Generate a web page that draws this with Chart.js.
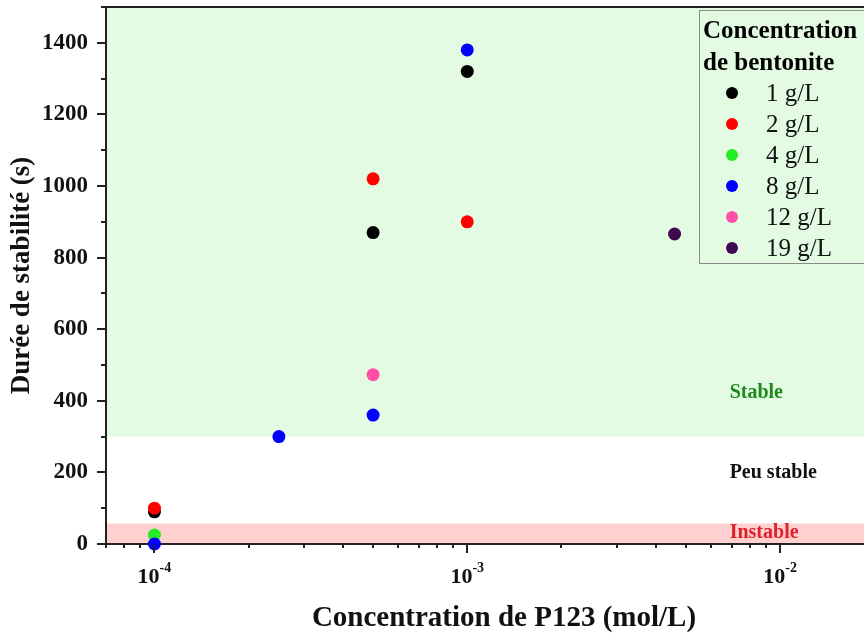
<!DOCTYPE html>
<html>
<head>
<meta charset="utf-8">
<script src="https://cdn.jsdelivr.net/npm/chart.js@4"></script>
<style>
  html, body { margin: 0; padding: 0; background: #fff; }
</style>
</head>
<body>
<canvas id="myChart" width="864" height="635"></canvas>
<script>
// series (bentonite concentration) and their points: P123 (mol/L) vs duration (s)
const seriesLabels = ['1 g/L', '2 g/L', '4 g/L', '8 g/L', '12 g/L', '19 g/L'];
const seriesColors = ['#000000', '#ff0000', '#22ee22', '#0000ff', '#ff4fa8', '#3d0a4f'];

const p123_1g = [1e-4, 5e-4, 1e-3];
const dur_1g = [90, 870, 1320];
const p123_2g = [1e-4, 5e-4, 1e-3];
const dur_2g = [100, 1020, 900];
const p123_4g = [1e-4];
const dur_4g = [25];
const p123_8g = [1e-4, 2.5e-4, 5e-4, 1e-3];
const dur_8g = [0, 300, 360, 1380];
const p123_12g = [5e-4];
const dur_12g = [473];
const p123_19g = [4.6e-3];
const dur_19g = [866];

const seriesX = [p123_1g, p123_2g, p123_4g, p123_8g, p123_12g, p123_19g];
const seriesY = [dur_1g, dur_2g, dur_4g, dur_8g, dur_12g, dur_19g];

// stability zones (s)
const stableMin = 300;
const unstableMax = 57;
const zoneLabels = ['Stable', 'Peu stable', 'Instable'];
const zoneLabelY = [422, 198, 31];
const zoneColors = ['#1e8a1e', '#111111', '#e0202a'];

// x tick labels (powers of ten)
const xTickValues = [1e-4, 1e-3, 1e-2];
const xTickExponents = ['-4', '-3', '-2'];

const SERIF = '"Liberation Serif", "Times New Roman", serif';

const datasets = seriesLabels.map((label, i) => ({
  label: label,
  data: seriesX[i].map((x, j) => ({ x: x, y: seriesY[i][j] })),
  backgroundColor: seriesColors[i],
  borderWidth: 0,
  pointRadius: 6.5,
  pointHoverRadius: 6.5,
  clip: false,
  order: seriesLabels.length - i // later series drawn on top
}));

const decor = {
  id: 'decor',
  beforeDraw(chart) {
    const { ctx, chartArea: a, scales: { y } } = chart;
    ctx.save();
    ctx.fillStyle = '#e3fbe3';
    let top = y.getPixelForValue(y.max), bot = y.getPixelForValue(stableMin);
    ctx.fillRect(a.left, top, a.right - a.left, bot - top);
    ctx.fillStyle = '#ffd0d0';
    top = y.getPixelForValue(unstableMax); bot = y.getPixelForValue(0);
    ctx.fillRect(a.left, top, a.right - a.left, bot - top);
    ctx.restore();
  },
  afterDraw(chart) {
    const { ctx, chartArea: a, scales: { x, y } } = chart;
    ctx.save();
    ctx.strokeStyle = '#222';
    ctx.lineWidth = 2;

    // top frame line
    ctx.beginPath();
    ctx.moveTo(a.left - 1, a.top);
    ctx.lineTo(a.right, a.top);
    ctx.stroke();

    // y ticks (major every 200, minor every 100)
    for (let v = 0; v <= y.max; v += 100) {
      const py = Math.round(y.getPixelForValue(v));
      const len = v % 200 === 0 ? 9 : 5;
      ctx.beginPath();
      ctx.moveTo(a.left - len, py);
      ctx.lineTo(a.left, py);
      ctx.stroke();
    }

    // x ticks (log, minor 2..9)
    for (let d = -5; d <= -1; d++) {
      for (let k = 1; k <= 9; k++) {
        const v = k * Math.pow(10, d);
        if (v < x.min || v > x.max) continue;
        const px = Math.round(x.getPixelForValue(v));
        const len = k === 1 ? 9 : 4;
        ctx.beginPath();
        ctx.moveTo(px, a.bottom);
        ctx.lineTo(px, a.bottom + len);
        ctx.stroke();
      }
    }

    // x tick labels 10^n
    ctx.fillStyle = '#111';
    ctx.textBaseline = 'alphabetic';
    ctx.textAlign = 'left';
    xTickValues.forEach((v, i) => {
      const px = x.getPixelForValue(v);
      ctx.font = 'bold 22px ' + SERIF;
      const w1 = ctx.measureText('10').width;
      ctx.font = 'bold 14px ' + SERIF;
      const w2 = ctx.measureText(xTickExponents[i]).width;
      const left = px - (w1 + w2) / 2;
      ctx.font = 'bold 22px ' + SERIF;
      ctx.fillText('10', left, 583);
      ctx.font = 'bold 14px ' + SERIF;
      ctx.fillText(xTickExponents[i], left + w1, 572);
    });

    // x axis title (centred on the uncropped plot)
    ctx.font = 'bold 29px ' + SERIF;
    ctx.textAlign = 'center';
    ctx.fillText('Concentration de P123 (mol/L)', 504, 626);

    // zone labels
    ctx.font = 'bold 20px ' + SERIF;
    ctx.textAlign = 'left';
    ctx.textBaseline = 'middle';
    const zx = x.getPixelForValue(6.9e-3);
    zoneLabels.forEach((t, i) => {
      ctx.fillStyle = zoneColors[i];
      ctx.fillText(t, zx, y.getPixelForValue(zoneLabelY[i]));
    });

    // legend
    ctx.lineWidth = 1;
    ctx.strokeStyle = '#8a8a8a';
    ctx.strokeRect(699.5, 10.5, 220, 253);
    ctx.fillStyle = '#000';
    ctx.textBaseline = 'alphabetic';
    ctx.font = 'bold 25px ' + SERIF;
    ctx.fillText('Concentration', 703, 38);
    ctx.fillText('de bentonite', 703, 70);
    ctx.font = '25px ' + SERIF;
    ctx.textBaseline = 'middle';
    chart.data.datasets.forEach((ds, i) => {
      const ry = 93 + i * 31;
      ctx.fillStyle = ds.backgroundColor;
      ctx.beginPath();
      ctx.arc(732, ry, 6, 0, Math.PI * 2);
      ctx.fill();
      ctx.fillStyle = '#111';
      ctx.fillText(ds.label, 766, ry + 1);
    });
    ctx.restore();
  }
};

new Chart(document.getElementById('myChart'), {
  type: 'scatter',
  data: { datasets: datasets },
  options: {
    responsive: false,
    animation: false,
    layout: { autoPadding: false, padding: { top: 7, left: 0, right: 0, bottom: 0 } },
    plugins: { legend: { display: false }, tooltip: { enabled: false } },
    scales: {
      x: {
        type: 'logarithmic',
        min: 7e-5,
        max: 0.01855,
        grid: { display: false, drawTicks: false },
        ticks: { display: false },
        border: { display: true, color: '#222', width: 2 },
        afterFit(s) { s.height = 91; s.paddingLeft = 0; s.paddingRight = 0; }
      },
      y: {
        min: 0,
        max: 1500,
        grid: { display: false, drawTicks: false },
        border: { display: true, color: '#222', width: 2 },
        ticks: {
          stepSize: 100,
          autoSkip: false,
          padding: 18,
          color: '#111',
          font: { family: SERIF, weight: 'bold', size: 23 },
          callback: v => (v % 200 === 0 ? v : '')
        },
        title: {
          display: true,
          text: 'Durée de stabilité (s)',
          color: '#111',
          font: { family: SERIF, weight: 'bold', size: 27 },
          padding: { top: 6, bottom: 0 }
        },
        afterFit(s) { s.width = 106; s.paddingTop = 0; s.paddingBottom = 0; }
      }
    }
  },
  plugins: [decor]
});
</script>
</body>
</html>
